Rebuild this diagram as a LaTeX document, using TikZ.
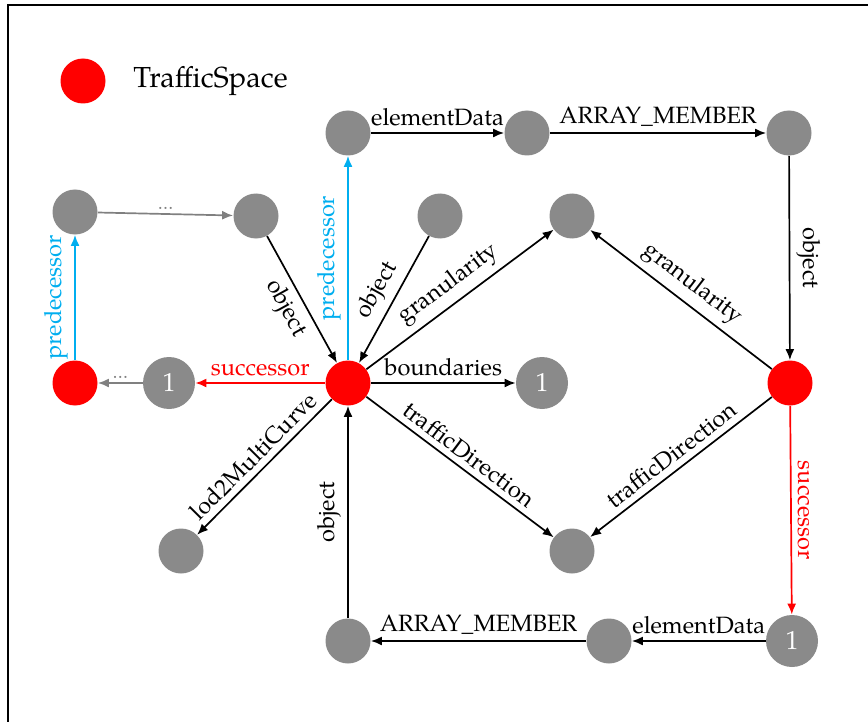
\documentclass[tikz,border=0pt]{standalone}
\usepackage{fontspec}
\setmainfont{texgyrepagella-regular.otf}
\usetikzlibrary{arrows.meta}
\definecolor{ngray}{RGB}{138,138,138}
\definecolor{agray}{RGB}{128,128,128}
\definecolor{ncyan}{RGB}{0,174,239}
\begin{document}
\begin{tikzpicture}[x=0.5pt,y=-0.5pt,
  >={Latex[length=5.5pt,width=4.5pt]},
  gn/.style={circle,fill=ngray,minimum size=22.5pt,inner sep=0pt},
  rn/.style={circle,fill=red,minimum size=22.5pt,inner sep=0pt},
  onenode/.style={circle,fill=ngray,minimum size=26pt,inner sep=0pt,text=white,font=\fontsize{13}{15}\selectfont},
  edge/.style={line width=0.85pt,->},
  redge/.style={line width=0.85pt,<-},
  lab/.style={font=\fontsize{11.8}{14}\selectfont,inner sep=3pt},
  dots/.style={font=\fontsize{9}{10}\selectfont,inner sep=2pt,text=agray},
  vup/.style={lab,rotate=90,anchor=south},
  vdown/.style={lab,rotate=-90,anchor=south}
  ]
\clip (0,0) rectangle (868,722);
\draw[line width=1pt] (8,5) rectangle (900,760);

% legend
\node[rn] (leg) at (83,81) {};
\node[anchor=west,inner sep=0pt,font=\fontsize{14.5}{17}\selectfont] (legt) at (133,81) {TrafficSpace};

% nodes
\node[gn] (A) at (75,212) {};
\node[gn] (B) at (256,216) {};
\node[rn] (C) at (75,383) {};
\node[onenode] (D) at (169,383) {1};
\node[rn] (M) at (348,383) {};
\node[gn] (E) at (348,133) {};
\node[gn] (F) at (527,133) {};
\node[gn] (G) at (789,133) {};
\node[gn] (H) at (440,216) {};
\node[gn] (I) at (572,216) {};
\node[rn] (J) at (790,383) {};
\node[onenode] (K) at (542,383) {1};
\node[gn] (L) at (181,551) {};
\node[gn] (N) at (572,551) {};
\node[gn] (O) at (348,641) {};
\node[gn] (P) at (609,641) {};
\node[onenode] (Q) at (792,641) {1};

% edges
\draw[edge,agray] (A) -- node[dots,above]{\ldots} (B);
\draw[edge,ncyan] (C) -- node[vup,text=ncyan]{predecessor} (A);
\draw[edge,agray] (D) -- node[dots,above]{\ldots} (C);
\draw[edge,red] (M) -- node[lab,above,text=red]{successor} (D);
\draw[edge] (B) -- node[lab,sloped,below]{object} (M);
\draw[edge,ncyan] (M) -- node[vup,text=ncyan]{predecessor} (E);
\draw[redge] (M) -- node[lab,sloped,above]{object} (H);
\draw[edge] (M) -- node[lab,sloped,above]{granularity} (I);
\draw[edge] (M) -- node[lab,above]{boundaries} (K);
\draw[redge] (L) -- node[lab,sloped,above]{lod2MultiCurve} (M);
\draw[edge] (O) -- node[vup]{object} (M);
\draw[edge] (M) -- node[lab,sloped,above]{trafficDirection} (N);
\draw[edge] (E) -- node[lab,above]{elementData} (F);
\draw[edge] (F) -- node[lab,above]{ARRAY\_MEMBER} (G);
\draw[edge] (G) -- node[vdown]{object} (J);
\draw[redge] (I) -- node[lab,sloped,above]{granularity} (J);
\draw[redge] (N) -- node[lab,sloped,above]{trafficDirection} (J);
\draw[edge,red] (J) -- node[vdown,text=red]{successor} (Q);
\draw[edge] (Q) -- node[lab,above]{elementData} (P);
\draw[edge] (P) -- node[lab,above]{ARRAY\_MEMBER} (O);
\end{tikzpicture}
\end{document}
